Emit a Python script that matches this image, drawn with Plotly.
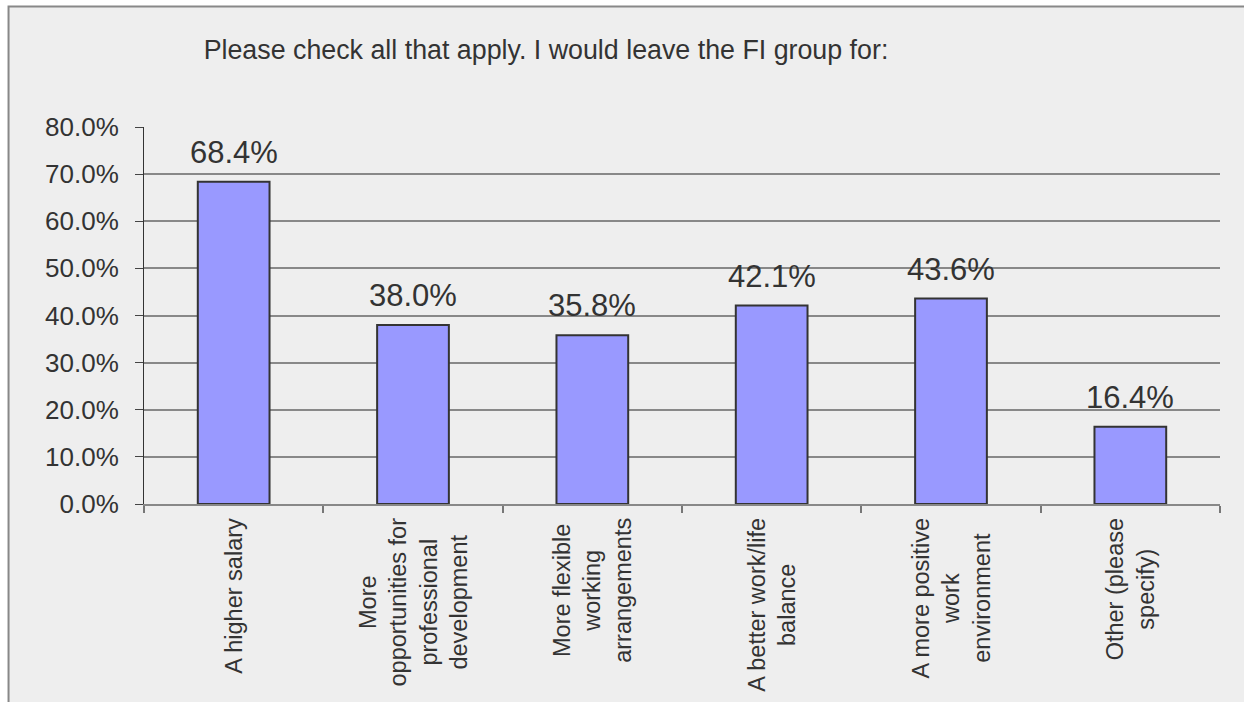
import plotly.graph_objects as go

# Survey responses (share of respondents choosing each reason)
categories = [
    "A higher salary",
    "More<br>opportunities for<br>professional<br>development",
    "More flexible<br>working<br>arrangements",
    "A better work/life<br>balance",
    "A more positive<br>work<br>environment",
    "Other (please<br>specify)",
]
values = [68.4, 38.0, 35.8, 42.1, 43.6, 16.4]
y_ticks = [0, 10, 20, 30, 40, 50, 60, 70, 80]
y_tick_labels = [f"{v:.1f}%" for v in y_ticks]
title_text = "Please check all that apply. I would leave the FI group for:"

FONT = "Liberation Sans, Arial, sans-serif"
TEXT = "#333333"

fig = go.Figure()
fig.add_trace(go.Bar(
    x=categories,
    y=values,
    marker=dict(color="#9999ff", line=dict(color="#333333", width=2)),
    hoverinfo="skip",
))

# value labels above each bar
for c, v in zip(categories, values):
    fig.add_annotation(
        x=c, y=v, xref="x", yref="y",
        text=f"{v:.1f}%", showarrow=False,
        yanchor="bottom", yshift=10,
        font=dict(family=FONT, size=31, color=TEXT),
    )

# rotated category labels under the axis
for c in categories:
    fig.add_annotation(
        x=c, y=0, xref="x", yref="paper",
        text=c, showarrow=False, textangle=-90,
        xanchor="center", yanchor="top", yshift=-12, align="center",
        font=dict(family=FONT, size=23.5, color=TEXT),
    )

# chart frame
fig.add_shape(
    type="rect", xref="paper", yref="paper",
    x0=-0.1259, x1=1.1, y0=-0.7, y1=1.3196,
    fillcolor="#eeeeee", line=dict(color="#888888", width=2),
    layer="below",
)

fig.update_layout(
    width=1244, height=702,
    margin=dict(l=144, r=24, t=127, b=198),
    paper_bgcolor="white",
    plot_bgcolor="rgba(0,0,0,0)",
    showlegend=False,
    bargap=0.6,
    title=dict(
        text=title_text, x=546 / 1244, xanchor="center",
        y=1 - 50 / 702, yanchor="middle",
        font=dict(family=FONT, size=26.8, color=TEXT),
    ),
    xaxis=dict(
        showticklabels=False,
        ticks="outside", tickson="boundaries", ticklen=7,
        tickcolor="#777777", tickwidth=2,
        showline=True, linecolor="#888888", linewidth=2,
        showgrid=False,
    ),
    yaxis=dict(
        range=[0, 80],
        tickvals=y_ticks, ticktext=y_tick_labels,
        ticks="outside", ticklen=8, tickcolor="#444444", tickwidth=1,
        ticklabelstandoff=11,
        showline=True, linecolor="#333333", linewidth=1,
        showgrid=True, gridcolor="#888888", gridwidth=1.5,
        zeroline=False,
        tickfont=dict(family=FONT, size=26, color=TEXT),
    ),
)

fig.write_html("out.html")
